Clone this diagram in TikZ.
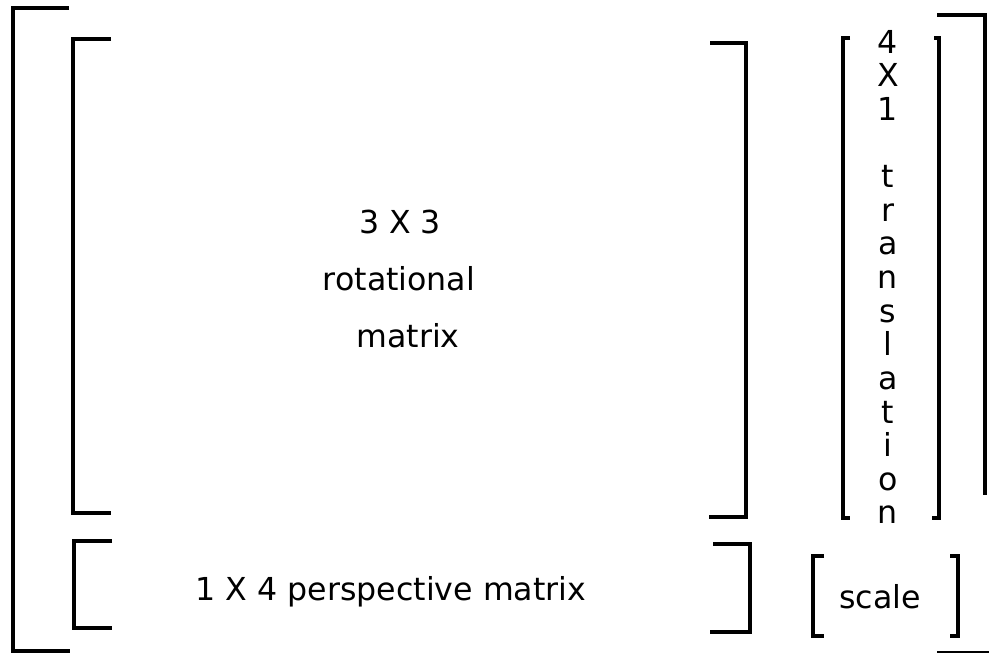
\documentclass[tikz,border=0pt]{standalone}
\usepackage{fontspec}
\setmainfont{DejaVu Sans}

\begin{document}
\begin{tikzpicture}[x=0.02cm, y=-0.02cm,
  brk/.style={line width=2.1pt},
  lbl/.style={anchor=base, inner sep=0pt, font=\fontsize{18}{22}\selectfont}]
  \useasboundingbox (0,0) rectangle (989,657);
  % outer brackets
  \draw[brk] (69,8) -- (13,8) -- (13,651) -- (70,651);
  \draw[brk] (937,15) -- (985,15) -- (985,495);
  \draw[line width=1pt] (937,652) -- (989,652);
  % rotational block
  \draw[brk] (111,39) -- (73,39) -- (73,513) -- (111,513);
  \draw[brk] (710,43) -- (746,43) -- (746,517) -- (709,517);
  \node[lbl] (rotsize) at (400,233) {3 X 3};
  \node[lbl] (rotname) at (399,290) {rotational};
  \node[lbl] (rotmat) at (408,347) {matrix};
  % translation column
  \draw[brk] (850,38) -- (843,38) -- (843,518) -- (850,518);
  \draw[brk] (934,38) -- (939,38) -- (939,518) -- (932,518);
  \foreach \ch/\k in {4/0, X/1, 1/2, t/4, r/5, a/6, n/7, s/8, l/9, a/10, t/11, i/12, o/13, n/14}
    \node[lbl] (trans\k) at (888, 53+33.64*\k) {\ch};
  % perspective row
  \draw[brk] (112,541) -- (74,541) -- (74,628) -- (112,628);
  \draw[brk] (713,544) -- (750,544) -- (750,632) -- (710,632);
  \node[lbl] (persp) at (391,600) {1 X 4 perspective matrix};
  % scale
  \draw[brk] (824,556) -- (813,556) -- (813,636) -- (824,636);
  \draw[brk] (950,556) -- (958,556) -- (958,636) -- (950,636);
  \node[lbl] (scl) at (880,608) {scale};
\end{tikzpicture}
\end{document}
